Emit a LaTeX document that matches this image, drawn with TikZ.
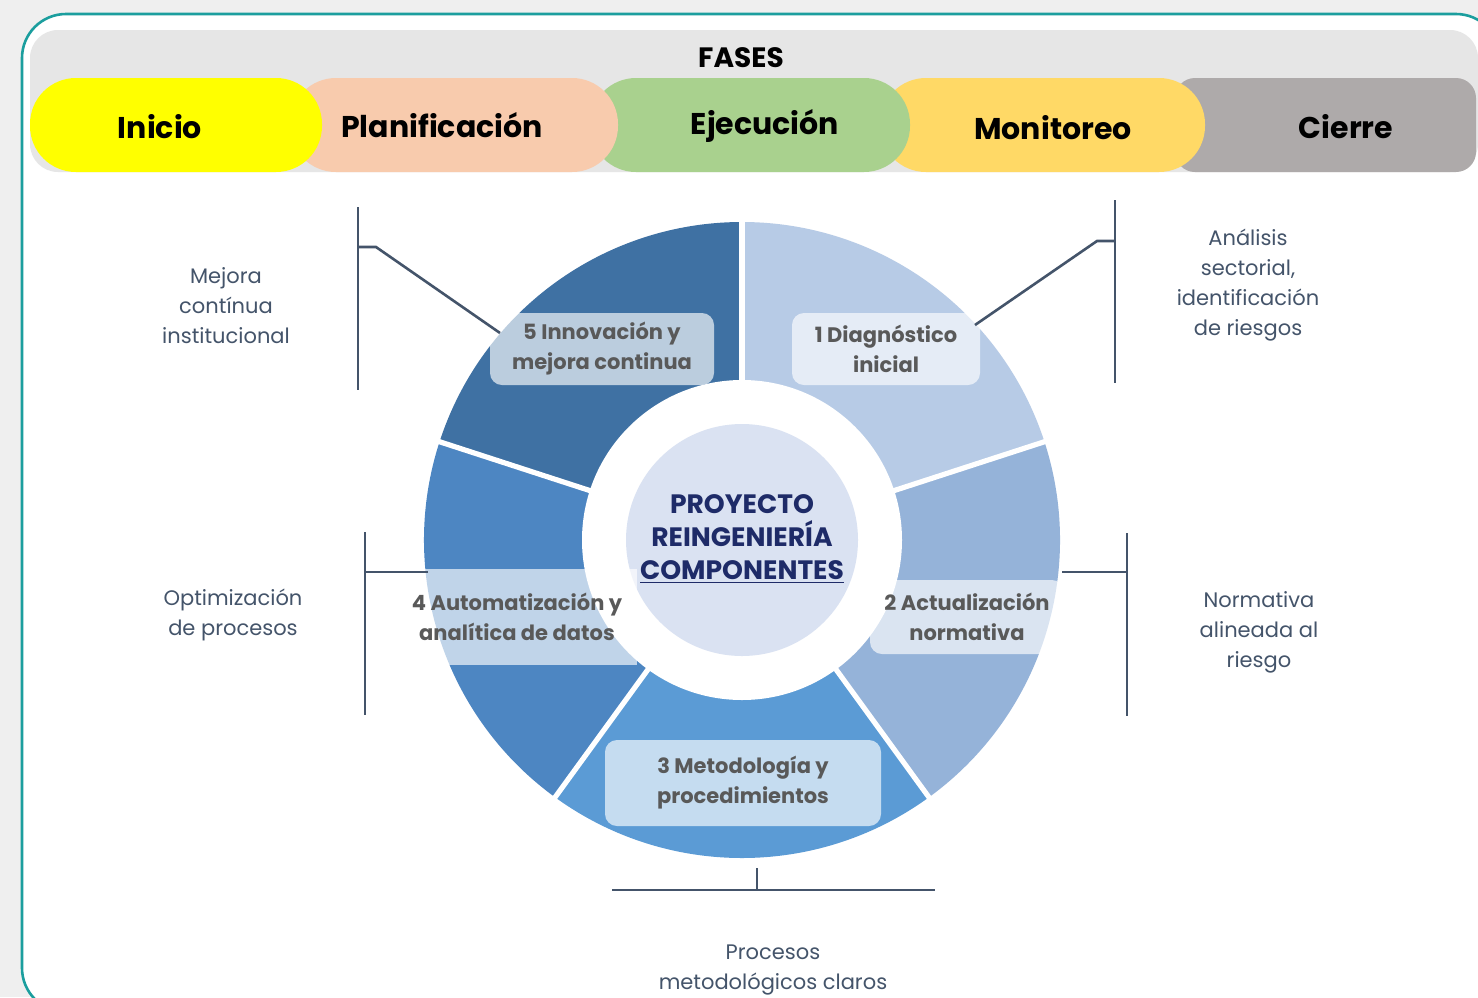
\documentclass[tikz,border=0pt]{standalone}
\usepackage{fontspec}
\setmainfont{Poppins}
\usetikzlibrary{positioning}

\definecolor{pagebg}{HTML}{EFEFEF}
\definecolor{frameteal}{HTML}{1B9E9E}
\definecolor{bandgray}{HTML}{E6E6E6}
\definecolor{phyellow}{HTML}{FFFF00}
\definecolor{phpeach}{HTML}{F8CBAD}
\definecolor{phgreen}{HTML}{A9D18E}
\definecolor{phgold}{HTML}{FFD966}
\definecolor{phgray}{HTML}{AEAAAA}
\definecolor{segA}{HTML}{B7CBE6}
\definecolor{segB}{HTML}{95B3D9}
\definecolor{segC}{HTML}{5B9BD5}
\definecolor{segD}{HTML}{4D86C2}
\definecolor{segE}{HTML}{3F71A3}
\definecolor{hubfill}{HTML}{DAE2F2}
\definecolor{linecol}{HTML}{44546A}
\definecolor{labgray}{HTML}{595959}
\definecolor{hubnavy}{HTML}{1E2B68}

\begin{document}
\begin{tikzpicture}[x=0.5pt,y=-0.5pt,
  pill/.style={rounded corners=23pt},
  phase/.style={font=\bfseries\fontsize{15}{18}\selectfont, text=black},
  seglabel/.style={fill=white, fill opacity=0.65, text opacity=1, rounded corners=6pt,
    align=center, inner sep=3pt, text=labgray, font=\bfseries\fontsize{10.5}{15}\selectfont},
  note/.style={align=center, text=linecol, font=\fontsize{10.5}{15}\selectfont},
  callout/.style={draw=linecol, line width=1.3pt},
  gap/.style={draw=white, line width=2.6pt}
]

% page and frame
\fill[pagebg] (0,0) rectangle (1478,997);
\useasboundingbox (0,0) rectangle (1478,997);
\filldraw[fill=white, draw=frameteal, line width=1.3pt, rounded corners=22pt]
  (22,14) rectangle (1500,1012);

% phase band
\fill[bandgray, rounded corners=14pt] (30,30) rectangle (1478,172);
\node[font=\bfseries\fontsize{14}{16}\selectfont] (fases) at (741,58) {FASES};

\fill[phgray, rounded corners=10pt] (1175,78) rectangle (1476,172);
\fill[phgold, pill] (880,78) rectangle (1205,172);
\fill[phgreen, pill] (590,78) rectangle (910,172);
\fill[phpeach, pill] (290,78) rectangle (618,172);
\fill[phyellow, pill] (30,78) rectangle (322,172);

\node[phase] (inicio) at (160,127) {Inicio};
\node[phase] (planif) at (442,125) {Planificación};
\node[phase] (ejec) at (765,126) {Ejecución};
\node[phase] (monit) at (1053,128) {Monitoreo};
\node[phase] (cierre) at (1346,127) {Cierre};

% ring of components
\begin{scope}[shift={(742,540)}]
  \fill[segA] (0,0) -- (-90:318) arc[start angle=-90, end angle=-18, radius=318] -- cycle;
  \fill[segB] (0,0) -- (-18:318) arc[start angle=-18, end angle=54, radius=318] -- cycle;
  \fill[segC] (0,0) -- (54:318) arc[start angle=54, end angle=126, radius=318] -- cycle;
  \fill[segD] (0,0) -- (126:318) arc[start angle=126, end angle=198, radius=318] -- cycle;
  \fill[segE] (0,0) -- (198:318) arc[start angle=198, end angle=270, radius=318] -- cycle;
  \foreach \a in {-90,-18,54,126,198}
    \draw[gap] (0,0) -- (\a:322);
  \fill[white] (0,0) circle[radius=160];
  \fill[hubfill] (0,0) circle[radius=116];
\end{scope}

\node[align=center, text=hubnavy, font=\bfseries\fontsize{13.3}{16.5}\selectfont] (hub) at (742,539)
  {PROYECTO\\REINGENIERÍA\\\underline{COMPONENTES}};

\node[seglabel, minimum width=112pt, minimum height=36pt] (lab5) at (602,349) {5 Innovación y\\mejora continua};
\node[seglabel, minimum width=94pt, minimum height=36pt] (lab1) at (886,349) {1 Diagnóstico\\inicial};
\node[seglabel, minimum width=97pt, minimum height=37pt] (lab2) at (967,617) {2 Actualización\\normativa};
\node[seglabel, minimum width=138pt, minimum height=43pt] (lab3) at (743,783) {3 Metodología y\\procedimientos};
\node[seglabel, minimum width=120pt, minimum height=48pt, rounded corners=0pt] (lab4) at (517,617) {4 Automatización y\\analítica de datos};

% outcomes
\node[note] (out5) at (226,306) {Mejora\\contínua\\institucional};
\node[note] (out1) at (1248,285) {Análisis\\sectorial,\\identificación\\de riesgos};
\node[note] (out4) at (233,615) {Optimización\\de procesos};
\node[note] (out2) at (1259,632) {Normativa\\alineada al\\riesgo};
\node[note] (out3) at (773,970) {Procesos\\metodológicos claros};

% brackets
\coordinate (b5top) at (358,207);
\coordinate (b5bot) at (358,390);
\coordinate (b5tick) at (358,247);
\coordinate (b5end) at (500,333);
\draw[callout] (b5top) -- (b5bot);
\draw[callout] (b5tick) -- ++(18,0) -- (b5end);

\coordinate (b1top) at (1115,200);
\coordinate (b1bot) at (1115,383);
\coordinate (b1tick) at (1115,241);
\coordinate (b1end) at (975,325);
\draw[callout] (b1top) -- (b1bot);
\draw[callout] (b1tick) -- ++(-18,0) -- (b1end);

\coordinate (b4top) at (365,532);
\coordinate (b4bot) at (365,715);
\coordinate (b4tick) at (365,572);
\coordinate (b4end) at (428,572);
\draw[callout] (b4top) -- (b4bot);
\draw[callout] (b4tick) -- (b4end);

\coordinate (b2top) at (1127,533);
\coordinate (b2bot) at (1127,716);
\coordinate (b2tick) at (1127,572);
\coordinate (b2end) at (1062,572);
\draw[callout] (b2top) -- (b2bot);
\draw[callout] (b2tick) -- (b2end);

\coordinate (b3left) at (612,890);
\coordinate (b3right) at (935,890);
\coordinate (b3tick) at (757,868);
\draw[callout] (b3left) -- (b3right);
\draw[callout] (b3tick) -- (b3tick |- b3left);

\end{tikzpicture}
\end{document}
